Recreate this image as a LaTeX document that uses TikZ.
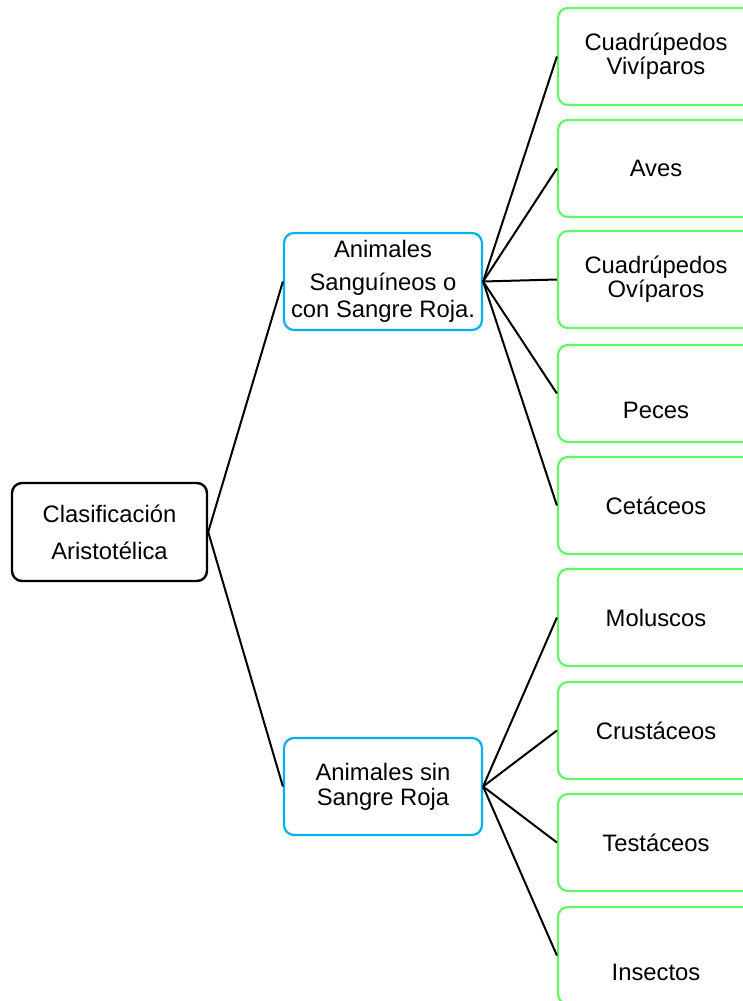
\documentclass[tikz,border=0pt]{standalone}
\usepackage{fontspec}
\setmainfont{Liberation Sans}
\definecolor{bluebox}{RGB}{0,176,240}
\definecolor{greenbox}{RGB}{100,245,100}
\begin{document}
\begin{tikzpicture}[x=0.5pt,y=-0.5pt,
  every node/.style={font=\fontsize{11.9}{12}\selectfont, align=center, inner sep=0pt},
  rootbox/.style={draw=black, rounded corners=5pt, line width=1.2pt, minimum width=97.5pt, minimum height=49pt},
  bluenode/.style={draw=bluebox, rounded corners=5pt, line width=1.1pt, minimum width=99pt, minimum height=48.5pt},
  greennode/.style={draw=greenbox, rounded corners=5pt, line width=1.1pt, minimum width=98pt, minimum height=48.5pt},
  conn/.style={line width=1pt, black}]
\useasboundingbox (0,0) rectangle (743,1001);
\clip (0,0) rectangle (743,1001);

\node[rootbox] (root) at (109.5,532) {Clasificación\\[6.5pt]Aristotélica};
\node[bluenode] (b1) at (383,281.5) {Animales\\[4.5pt]Sanguíneos o\\[1.5pt]con Sangre Roja.};
\node[bluenode] (b2) at (383,786.5) {Animales sin\\[0.5pt]Sangre Roja};

\node[greennode] (g1) at (656,56.5) {Cuadrúpedos\\Vivíparos};
\node[greennode] (g2) at (656,168.5) {Aves};
\node[greennode] (g3) at (656,279.5) {Cuadrúpedos\\Ovíparos};
\node[greennode] (g4) at (656,393.5) {};
\node (t4) at (656,410.5) {Peces};
\node[greennode] (g5) at (656,505.5) {Cetáceos};
\node[greennode] (g6) at (656,617.5) {Moluscos};
\node[greennode] (g7) at (656,730.5) {Crustáceos};
\node[greennode] (g8) at (656,842.5) {Testáceos};
\node[greennode] (g9) at (656,955.5) {};
\node (t9) at (656,972.5) {Insectos};

\draw[conn] (root.east) -- (b1.west);
\draw[conn] (root.east) -- (b2.west);
\foreach \g in {g1,g2,g3,g4,g5}{\draw[conn] (b1.east) -- (\g.west);}
\foreach \g in {g6,g7,g8,g9}{\draw[conn] (b2.east) -- (\g.west);}
\end{tikzpicture}
\end{document}
